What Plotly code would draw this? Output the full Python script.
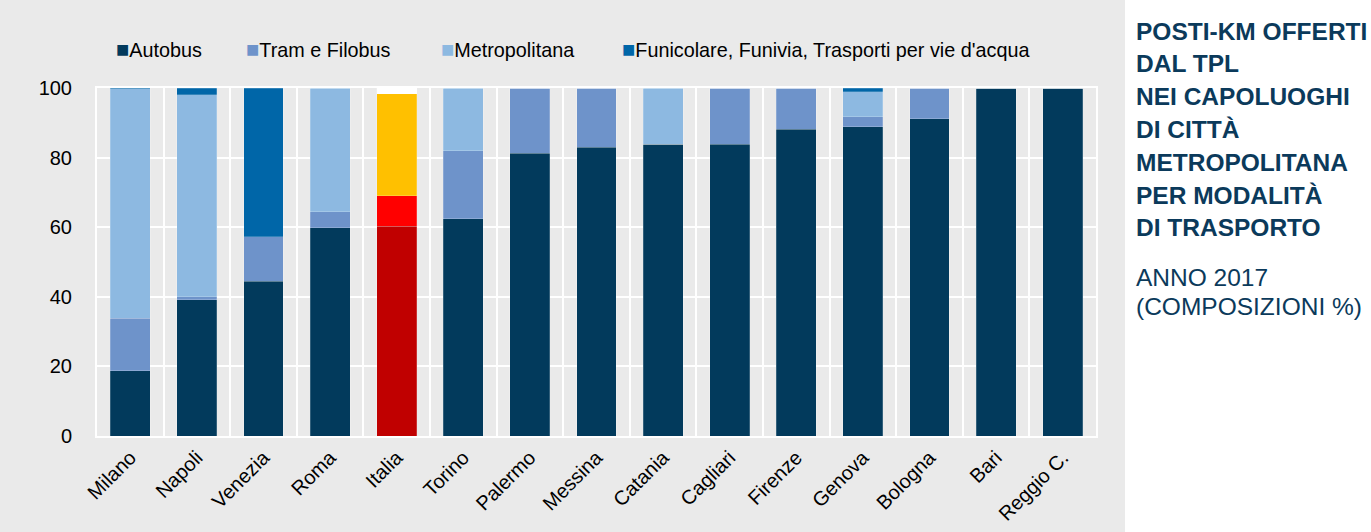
import plotly.graph_objects as go

cities = ["Milano", "Napoli", "Venezia", "Roma", "Italia", "Torino", "Palermo", "Messina",
          "Catania", "Cagliari", "Firenze", "Genova", "Bologna", "Bari", "Reggio C."]
autobus = [18.7, 39.1, 44.5, 59.8, 60.3, 62.4, 81.3, 83.0, 83.9, 83.9, 88.2, 88.8, 91.1, 100.0, 100.0]
tram = [15.2, 0.9, 12.7, 4.6, 8.7, 19.5, 18.7, 17.0, 0.0, 16.1, 11.8, 2.9, 8.9, 0.0, 0.0]
metro = [65.9, 58.0, 0.0, 35.6, 29.3, 18.1, 0.0, 0.0, 16.1, 0.0, 0.0, 7.2, 0.0, 0.0, 0.0]
funi = [0.2, 2.0, 42.8, 0.0, 1.7, 0.0, 0.0, 0.0, 0.0, 0.0, 0.0, 1.1, 0.0, 0.0, 0.0]
series_names = ["Autobus", "Tram e Filobus", "Metropolitana",
                "Funicolare, Funivia, Trasporti per vie d'acqua"]
series_colors = ["#023A5C", "#6E93CA", "#8DB9E1", "#0066A8"]
italia_colors = ["#C00000", "#FF0000", "#FFC000", "#FFFFFF"]
yticks = [0, 20, 40, 60, 80, 100]

title_lines = ["POSTI-KM OFFERTI", "DAL TPL", "NEI CAPOLUOGHI", "DI CITTÀ",
               "METROPOLITANA", "PER MODALITÀ", "DI TRASPORTO"]
subtitle_lines = ["ANNO 2017", "(COMPOSIZIONI %)"]

FONT = "Liberation Sans, Arial, sans-serif"
BG = "#EAEAEA"
TXT = "#0B3A5B"

# plot area in pixels
L, R, T, B = 97, 1096, 88, 436
W, H = 1371, 532
PW, PH = R - L, B - T


def px(xp):
    return (xp - L) / PW


def py(yp):
    return (B - yp) / PH


x = list(range(len(cities)))
fig = go.Figure()
for name, vals, col, icol in zip(series_names, [autobus, tram, metro, funi], series_colors, italia_colors):
    cols = [icol if c == "Italia" else col for c in cities]
    fig.add_trace(go.Bar(
        x=x, y=vals, name=name,
        marker=dict(color=cols, line=dict(width=0.8, color="rgba(255,255,255,0.25)")),
        showlegend=False,
    ))

fig.update_layout(
    barmode="stack",
    bargap=0.4,
    width=W, height=H,
    margin=dict(l=L, r=W - R, t=T, b=H - B),
    paper_bgcolor="white",
    plot_bgcolor=BG,
    font=dict(family=FONT, size=20, color="black"),
    xaxis=dict(
        tickmode="array", tickvals=x, ticktext=cities, range=[-0.5, len(cities) - 0.5],
        tickangle=-45, showgrid=False, zeroline=False, automargin=False,
        showline=True, linecolor="white", linewidth=2, mirror=True,
        ticks="", tickfont=dict(size=20),
        minor=dict(tickmode="array", tickvals=[i + 0.5 for i in range(-1, len(cities))],
                   showgrid=True, gridcolor="white", gridwidth=2, ticks=""),
    ),
    yaxis=dict(
        range=[0, 100], tickvals=yticks, showgrid=True, gridcolor="white", gridwidth=2,
        zeroline=False, showline=True, linecolor="white", linewidth=2, mirror=True,
        ticks="", ticklabelstandoff=19, tickfont=dict(size=20), automargin=False,
    ),
)

# grey background panel for the chart area
fig.add_shape(type="rect", xref="paper", yref="paper", layer="below",
              x0=px(0), x1=px(1125), y0=py(H), y1=py(0),
              fillcolor=BG, line=dict(width=0))

# legend drawn as annotations
leg_x = [114, 244, 439, 620]
for name, col, lx in zip(series_names, series_colors, leg_x):
    fig.add_annotation(xref="paper", yref="paper", x=px(lx), y=py(50),
                       xanchor="left", yanchor="middle", showarrow=False,
                       text=f"<span style='color:{col};font-size:22px'>■</span>{name}",
                       font=dict(family=FONT, size=19.8, color="black"))

# right-hand title
tx = px(1134)
for i, line in enumerate(title_lines):
    fig.add_annotation(xref="paper", yref="paper", x=tx, y=py(31 + 32.8 * i),
                       xanchor="left", yanchor="middle", showarrow=False,
                       text=f"<b>{line}</b>", font=dict(family=FONT, size=24.5, color=TXT))
for i, line in enumerate(subtitle_lines):
    fig.add_annotation(xref="paper", yref="paper", x=tx, y=py(277 + 29 * i),
                       xanchor="left", yanchor="middle", showarrow=False,
                       text=line, font=dict(family=FONT, size=24.5, color=TXT))

fig.write_html("out.html", config={"displayModeBar": False},
               post_script="document.body.style.margin='0';document.body.style.padding='0';")
